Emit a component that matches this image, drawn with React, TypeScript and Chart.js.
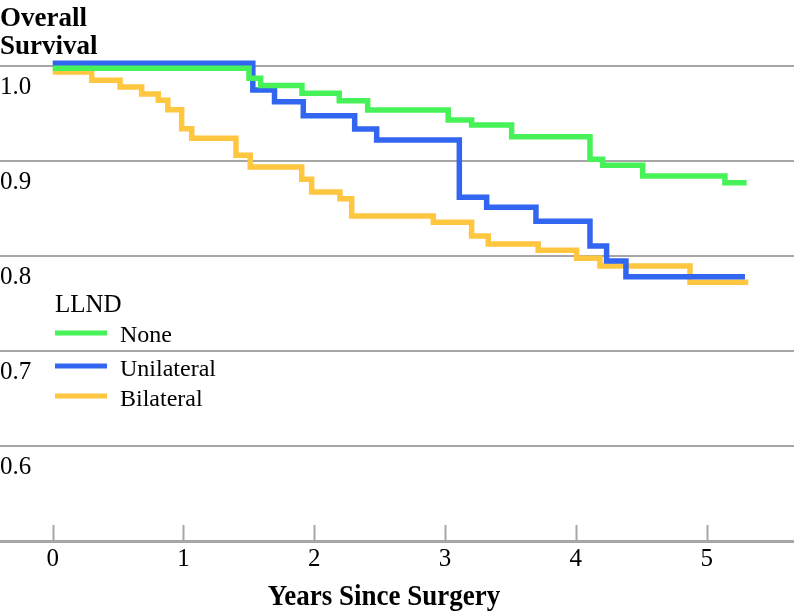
import React, { useEffect, useRef } from "react";
import { Chart, registerables } from "chart.js";

Chart.register(...registerables);

const seriesNames = ["None", "Unilateral", "Bilateral"];
const seriesColors = ["#46f258", "#3366f0", "#ffc640"];
const legendTitle = "LLND";
const yTitleLines = ["Overall", "Survival"];
const xTitle = "Years Since Surgery";
const xTickValues = [0, 1, 2, 3, 4, 5];
const yTickValues = [0.6, 0.7, 0.8, 0.9, 1.0];

const noneTimes = [0, 1.501, 1.59, 1.906, 2.191, 2.408, 3.024, 3.203, 3.509, 4.108, 4.205, 4.511, 5.14, 5.306];
const noneSurv = [0.9976, 0.987, 0.9795, 0.9713, 0.9635, 0.9537, 0.9432, 0.9379, 0.9256, 0.9018, 0.8955, 0.8842, 0.8772, 0.8772];

const uniTimes = [0, 1.53, 1.696, 1.916, 2.309, 2.477, 3.109, 3.318, 3.695, 4.108, 4.235, 4.383, 5.293];
const uniSurv = [1.0028, 0.9747, 0.9624, 0.9477, 0.9337, 0.922, 0.8618, 0.8513, 0.8365, 0.8105, 0.7947, 0.7782, 0.7782];

const biTimes = [0, 0.298, 0.515, 0.68, 0.807, 0.88, 0.986, 1.063, 1.401, 1.51, 1.904, 1.98, 2.196, 2.286, 2.91, 3.203, 3.33, 3.712, 4.006, 4.184, 4.873, 5.318];
const biSurv = [0.9937, 0.985, 0.978, 0.9705, 0.964, 0.954, 0.934, 0.924, 0.906, 0.8937, 0.8807, 0.8674, 0.8603, 0.842, 0.8355, 0.821, 0.8126, 0.806, 0.7976, 0.7895, 0.7723, 0.7723];

const SERIF = "'Liberation Serif', 'Times New Roman', serif";
const GRID = "#a6a6a6";

const overlay = {
  id: "overlay",
  afterDraw(chart: any) {
    const ctx = chart.ctx;
    const area = chart.chartArea;
    const xs = chart.scales.x;
    ctx.save();
    // x tick marks inside the plot, above the axis line
    ctx.strokeStyle = GRID;
    ctx.lineWidth = 2;
    xs.ticks.forEach((t: any) => {
      const px = Math.round(xs.getPixelForValue(t.value)) + 0.5;
      ctx.beginPath();
      ctx.moveTo(px, area.bottom - 16);
      ctx.lineTo(px, area.bottom);
      ctx.stroke();
    });
    // x title
    ctx.fillStyle = "#000";
    ctx.textBaseline = "alphabetic";
    ctx.textAlign = "center";
    ctx.font = `bold 27px ${SERIF}`;
    ctx.save();
    ctx.translate(384, 605);
    ctx.scale(1, 1.12);
    ctx.fillText(xTitle, 0, 0);
    ctx.restore();
    // y title
    ctx.textAlign = "left";
    ctx.font = `bold 27px ${SERIF}`;
    ctx.fillText(yTitleLines[0], 0, 26);
    ctx.fillText(yTitleLines[1], 0, 54);
    // legend
    ctx.font = `25px ${SERIF}`;
    ctx.fillText(legendTitle, 55, 311.5);
    const lineYs = [333, 366, 396];
    const textYs = [341.5, 375.5, 406];
    ctx.font = `24px ${SERIF}`;
    seriesNames.forEach((name, i) => {
      ctx.strokeStyle = seriesColors[i];
      ctx.lineWidth = 5;
      ctx.beginPath();
      ctx.moveTo(55, lineYs[i]);
      ctx.lineTo(107, lineYs[i]);
      ctx.stroke();
      ctx.fillStyle = "#000";
      ctx.fillText(name, 120, textYs[i]);
    });
    ctx.restore();
  },
};

export default function App() {
  const ref = useRef<HTMLCanvasElement>(null);
  useEffect(() => {
    document.body.style.margin = "0";
    const canvas = ref.current!;
    const mk = (t: number[], s: number[]) => t.map((v, i) => ({ x: v, y: s[i] }));
    const series = [mk(noneTimes, noneSurv), mk(uniTimes, uniSurv), mk(biTimes, biSurv)];
    const chart = new Chart(canvas, {
      type: "line",
      data: {
        datasets: series.map((d, i) => ({
          label: seriesNames[i],
          data: d,
          borderColor: seriesColors[i],
          backgroundColor: seriesColors[i],
          borderWidth: 5.5,
          stepped: true,
          pointRadius: 0,
          fill: false,
          borderCapStyle: "butt",
          borderJoinStyle: "miter",
        })),
      },
      options: {
        responsive: false,
        animation: false,
        layout: { padding: 0 },
        plugins: { legend: { display: false }, tooltip: { enabled: false } },
        scales: {
          x: {
            type: "linear",
            min: -0.403,
            max: 5.668,
            afterBuildTicks: (s: any) => {
              s.ticks = xTickValues.map((v) => ({ value: v }));
            },
            afterFit: (s: any) => {
              s.height = 71;
              s.paddingLeft = 0;
              s.paddingRight = 0;
            },
            grid: { display: false, drawTicks: false },
            border: { display: true, color: GRID, width: 3 },
            ticks: {
              font: { family: SERIF, size: 25 },
              color: "#000",
              padding: 3,
              maxRotation: 0,
              autoSkip: false,
            },
            title: { display: false },
          },
          y: {
            type: "linear",
            min: 0.5,
            max: 1.0695,
            afterBuildTicks: (s: any) => {
              s.ticks = yTickValues.map((v) => ({ value: v }));
            },
            afterFit: (s: any) => {
              s.width = 0;
              s.paddingTop = 0;
              s.paddingBottom = 0;
            },
            grid: { color: GRID, lineWidth: 2, drawTicks: false },
            border: { display: false },
            ticks: {
              mirror: true,
              padding: 0,
              labelOffset: 21,
              font: { family: SERIF, size: 25 },
              color: "#000",
              callback: (v: any) => Number(v).toFixed(1),
            },
          },
        },
      },
      plugins: [overlay],
    } as any);
    return () => chart.destroy();
  }, []);
  return <canvas ref={ref} width={794} height={612} style={{ display: "block" }} />;
}
